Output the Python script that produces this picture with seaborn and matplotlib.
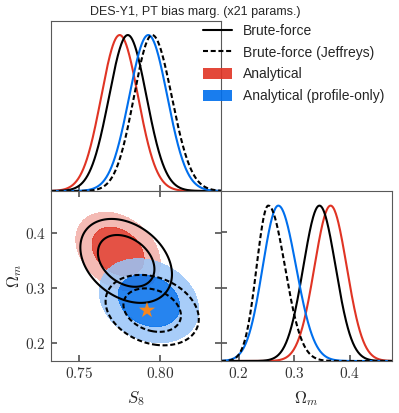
import numpy as np
import pandas as pd
import seaborn as sns
import matplotlib
matplotlib.use("Agg")
import matplotlib.pyplot as plt
from matplotlib.lines import Line2D
from matplotlib.patches import Patch

# ---------------------------------------------------------
# DATA
# ---------------------------------------------------------

labels = ["Brute-force", "Brute-force (Jeffreys)",
          "Analytical", "Analytical (profile-only)"]

# 1D marginals: peak position, lower / upper width
s8_peak = [0.780, 0.795, 0.775, 0.7926]
s8_sig_lo = [0.0115, 0.0112, 0.0113, 0.0117]
s8_sig_hi = [0.0115, 0.0120, 0.0113, 0.0117]

om_peak = [0.345, 0.253, 0.365, 0.271]
om_sig_lo = [0.029, 0.021, 0.029, 0.028]
om_sig_hi = [0.029, 0.030, 0.029, 0.032]

# 2D posteriors: centre, widths, correlation
s8_c2d = [0.779, 0.795, 0.774, 0.793]
om_c2d = [0.349, 0.260, 0.366, 0.277]
s8_w2d = [0.0115, 0.0117, 0.0106, 0.0125]
om_w2d = [0.031, 0.026, 0.029, 0.031]
rho_2d = [-0.32, -0.25, -0.30, -0.22]

fiducial_s8 = [0.7918]
fiducial_om = [0.2597]

title = "DES-Y1, PT bias marg. (x21 params.)"

RED = "#E03424"
BLUE = "#006FED"
line_colors = {labels[0]: "black", labels[1]: "black",
               labels[2]: RED, labels[3]: BLUE}
line_dashes = {labels[0]: "", labels[1]: (2.4, 1.3),
               labels[2]: "", labels[3]: ""}

S8_LIM = (0.7328, 0.8373)
OM_LIM = (0.168, 0.4754)

# ---------------------------------------------------------
# STYLE
# ---------------------------------------------------------

sns.set_theme(style="ticks")
plt.rcParams["font.family"] = ["Liberation Sans", "DejaVu Sans"]
plt.rcParams["mathtext.fontset"] = "cm"
plt.rcParams["axes.edgecolor"] = "0.35"
plt.rcParams["axes.linewidth"] = 0.8


def split_normal(x, mu, lo, hi):
    s = np.where(x < mu, lo, hi)
    return np.exp(-0.5 * ((x - mu) / s) ** 2)


def mathfmt(vals, fmt):
    return ["$" + format(v, fmt) + "$" for v in vals]


fig = plt.figure(figsize=(3.99, 4.13), dpi=100)

W, H = 399.0, 413.0
ax_s8 = fig.add_axes([51 / W, 1 - 191 / H, 170 / W, 170 / H])
ax_2d = fig.add_axes([51 / W, 1 - 361 / H, 170 / W, 170 / H])
ax_om = fig.add_axes([221 / W, 1 - 361 / H, 171 / W, 170 / H])

# ---------------------------------------------------------
# 1D S8
# ---------------------------------------------------------

xs = np.linspace(S8_LIM[0], S8_LIM[1], 400)
rows = []
for i, lab in enumerate(labels):
    ys = split_normal(xs, s8_peak[i], s8_sig_lo[i], s8_sig_hi[i])
    rows.append(pd.DataFrame({"x": xs, "p": ys, "label": lab}))
df_s8 = pd.concat(rows)

order = [labels[2], labels[0], labels[3], labels[1]]
sns.lineplot(data=df_s8, x="x", y="p", hue="label", style="label",
             hue_order=order, style_order=order,
             palette=line_colors, dashes=line_dashes,
             linewidth=1.5, legend=False, ax=ax_s8)
ax_s8.set_xlim(S8_LIM)
ax_s8.set_ylim(0, 1.09)
ax_s8.set_xticks([0.75, 0.80])
ax_s8.set_xticklabels([])
ax_s8.set_yticks([])
ax_s8.set_xlabel("")
ax_s8.set_ylabel("")
ax_s8.tick_params(axis="x", direction="in", length=4, color="0.35")

# ---------------------------------------------------------
# 1D Omega_m
# ---------------------------------------------------------

xo = np.linspace(OM_LIM[0], OM_LIM[1], 400)
rows = []
for i, lab in enumerate(labels):
    ys = split_normal(xo, om_peak[i], om_sig_lo[i], om_sig_hi[i])
    rows.append(pd.DataFrame({"x": xo, "p": ys, "label": lab}))
df_om = pd.concat(rows)

sns.lineplot(data=df_om, x="x", y="p", hue="label", style="label",
             hue_order=order, style_order=order,
             palette=line_colors, dashes=line_dashes,
             linewidth=1.5, legend=False, ax=ax_om)
ax_om.set_xlim(OM_LIM)
ax_om.set_ylim(0, 1.094)
ax_om.set_xticks([0.2, 0.3, 0.4])
ax_om.set_xticklabels(mathfmt([0.2, 0.3, 0.4], ".1f"))
ax_om.set_yticks([0.116, 0.47, 0.83])
ax_om.set_yticklabels([])
ax_om.set_xlabel(r"$\Omega_m$", fontsize=12, labelpad=6)
ax_om.set_ylabel("")
ax_om.tick_params(direction="in", length=4, color="0.35",
                  labelsize=11, labelcolor="0.2")

# ---------------------------------------------------------
# 2D contours
# ---------------------------------------------------------

gx = np.linspace(0.70, 0.87, 300)
gy = np.linspace(0.12, 0.55, 300)
GX, GY = np.meshgrid(gx, gy)


def gauss2d(i):
    dx = (GX - s8_c2d[i]) / s8_w2d[i]
    dy = (GY - om_c2d[i]) / om_w2d[i]
    r = rho_2d[i]
    q = (dx ** 2 - 2 * r * dx * dy + dy ** 2) / (1 - r ** 2)
    return np.exp(-0.5 * q)


def mass_levels(p, fracs):
    flat = np.sort(p.ravel())[::-1]
    cum = np.cumsum(flat) / flat.sum()
    return [flat[np.searchsorted(cum, f)] for f in fracs]


def lighten(c, m):
    rgb = np.array(matplotlib.colors.to_rgb(c))
    return tuple(rgb + (1 - rgb) * m)


for i, col in [(2, RED), (3, BLUE)]:
    p = gauss2d(i)
    l95, l68 = mass_levels(p, [0.95, 0.68])
    ax_2d.contourf(GX, GY, p, levels=[l95, l68, p.max() * 1.01],
                   colors=[lighten(col, 0.6), col], alpha=0.85)

for i, ls in [(0, "solid"), (1, (0, (2.4, 1.3)))]:
    p = gauss2d(i)
    l95, l68 = mass_levels(p, [0.95, 0.68])
    ax_2d.contour(GX, GY, p, levels=[l95, l68], colors="black",
                  linewidths=1.5, linestyles=[ls, ls])

sns.scatterplot(x=fiducial_s8, y=fiducial_om, marker="*", s=150,
                color="#F7861C", edgecolor="none", ax=ax_2d, zorder=5)

ax_2d.set_xlim(S8_LIM)
ax_2d.set_ylim(OM_LIM)
ax_2d.set_xticks([0.75, 0.80])
ax_2d.set_xticklabels(mathfmt([0.75, 0.80], ".2f"))
ax_2d.set_yticks([0.2, 0.3, 0.4])
ax_2d.set_yticklabels(mathfmt([0.2, 0.3, 0.4], ".1f"))
ax_2d.set_xlabel(r"$S_8$", fontsize=12, labelpad=6)
ax_2d.set_ylabel(r"$\Omega_m$", fontsize=12, labelpad=0.5)
ax_2d.tick_params(direction="in", length=4, color="0.35",
                  top=True, right=True, labelsize=11, labelcolor="0.2")

# ---------------------------------------------------------
# LEGEND + TITLE
# ---------------------------------------------------------

handles = [
    Line2D([], [], color="black", lw=1.5),
    Line2D([], [], color="black", lw=1.5, ls=(0, (2.4, 1.3))),
    Patch(facecolor=RED, alpha=0.9, edgecolor="none"),
    Patch(facecolor=BLUE, alpha=0.9, edgecolor="none"),
]
fig.legend(handles, labels, loc="upper left",
           bbox_to_anchor=(203 / W, 1 - 24 / H), frameon=False,
           fontsize=10, handlelength=2.1, handleheight=0.85,
           handletextpad=0.8, labelspacing=0.55,
           borderpad=0, borderaxespad=0)

fig.text(195 / W, 1 - 12 / H, title, ha="center", va="center",
         fontsize=9)

fig.savefig("out.png", dpi=100)
